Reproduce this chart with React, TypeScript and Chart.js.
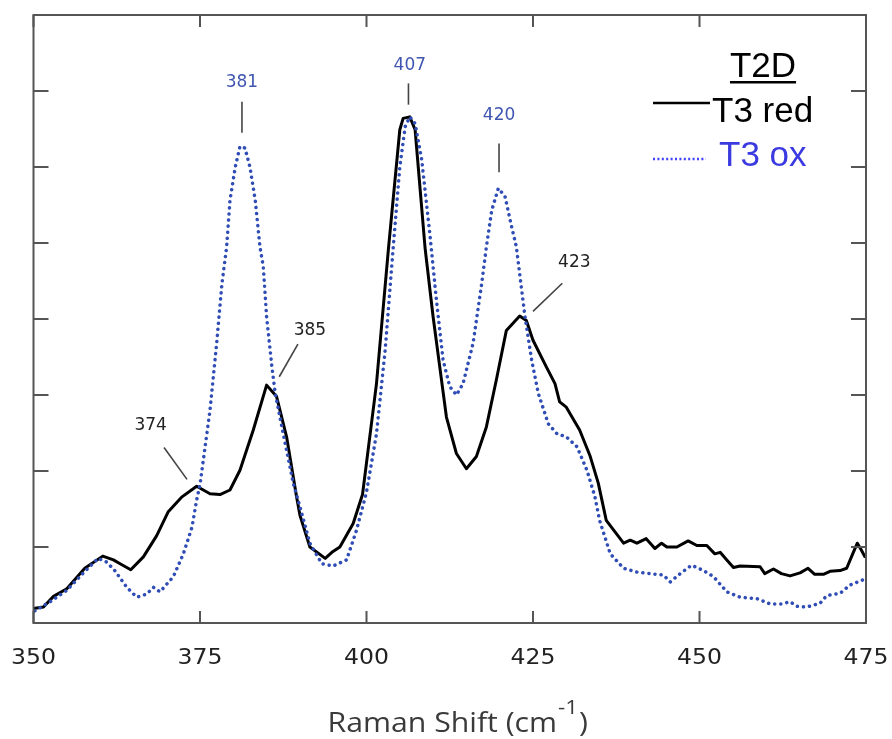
import React, { useEffect, useRef } from "react";
import { Chart, registerables } from "chart.js";

Chart.register(...registerables);

// ---- data (Raman shift in cm-1, intensity in arbitrary units) ----
const RED_X = [
  350.0, 351.5, 353.0, 355.0, 357.7, 360.4, 362.0, 363.0, 364.6, 366.5, 368.5, 370.2, 372.3, 374.5,
  376.5, 378.0, 379.5, 381.0, 383.0, 385.0, 386.5, 388.0, 389.5, 390.0, 391.5, 393.8, 394.8, 396.0,
  398.0, 399.4, 401.5, 403.3, 405.0, 405.5, 406.5, 407.3, 408.8, 410.0, 411.0, 412.0, 413.5, 415.0,
  416.5, 418.0, 419.5, 421.0, 423.0, 424.0, 425.0, 427.0, 428.3, 429.0, 430.0, 432.0, 433.6, 434.8,
  436.0, 438.6, 439.6, 440.6, 442.0, 443.3, 444.3, 445.1, 446.6, 448.3, 449.6, 451.1, 452.3, 453.1,
  454.1, 455.1, 456.1, 459.1, 459.8, 461.1, 462.3, 463.6, 465.1, 466.3, 467.3, 468.6, 469.6, 471.1,
  472.1, 473.1, 473.7, 474.3, 474.9,
];
const RED_Y = [
  0.19, 0.21, 0.35, 0.45, 0.72, 0.88, 0.83, 0.78, 0.7, 0.87, 1.15, 1.46, 1.66, 1.8,
  1.7, 1.69, 1.75, 2.01, 2.54, 3.13, 2.98, 2.45, 1.66, 1.42, 1.0, 0.85, 0.93, 1.0,
  1.31, 1.69, 3.15, 4.93, 6.49, 6.64, 6.66, 6.49, 4.93, 4.03, 3.37, 2.71, 2.23, 2.03,
  2.19, 2.58, 3.2, 3.85, 4.04, 3.98, 3.72, 3.37, 3.15, 2.91, 2.84, 2.54, 2.19, 1.84,
  1.35, 1.05, 1.09, 1.05, 1.11, 0.98, 1.05, 1.0, 1.0, 1.08, 1.02, 1.02, 0.91, 0.93,
  0.83, 0.73, 0.75, 0.74, 0.65, 0.71, 0.65, 0.62, 0.66, 0.72, 0.64, 0.64, 0.68, 0.69,
  0.72, 0.93, 1.05, 0.96, 0.86,
];
const OX_X = [
  350.2, 352.5, 355.0, 357.5, 359.7, 361.0, 362.2, 364.0, 365.5, 367.0, 368.0, 369.0, 371.0, 372.5,
  373.8, 374.5, 375.0, 376.5, 377.5, 378.3, 379.0, 379.5, 380.3, 381.0, 381.75, 382.5, 383.3, 384.0,
  384.5, 385.0, 385.8, 386.3, 387.5, 389.0, 390.0, 391.5, 393.3, 395.0, 397.0, 398.5, 400.0, 401.5,
  402.8, 404.0, 405.0, 405.8, 406.5, 407.3, 408.3, 409.5, 410.5, 411.5, 412.5, 413.5, 414.5, 416.0,
  417.3, 418.0, 418.8, 419.8, 420.8, 421.8, 422.5, 423.8, 424.8, 425.8, 427.3, 428.6, 430.0, 431.6,
  433.1, 434.3, 435.0, 436.6, 438.6, 440.6, 442.6, 444.6, 445.6, 447.1, 448.8, 450.6, 452.1, 454.1,
  456.1, 458.6, 460.6, 462.3, 463.6, 464.6, 466.1, 468.1, 469.1, 471.1, 472.6, 474.9,
];
const OX_Y = [
  0.16, 0.28, 0.43, 0.66, 0.85, 0.8, 0.69, 0.47, 0.34, 0.38, 0.47, 0.41, 0.61, 0.91,
  1.26, 1.62, 1.82, 2.8, 3.68, 4.47, 4.95, 5.56, 6.0, 6.27, 6.25, 6.0, 5.56, 4.95,
  4.69, 4.03, 3.37, 3.02, 2.49, 1.84, 1.53, 1.05, 0.78, 0.75, 0.83, 1.22, 1.72, 2.49,
  3.59, 4.93, 6.0, 6.53, 6.66, 6.57, 6.09, 5.13, 4.25, 3.46, 3.11, 3.0, 3.15, 3.68,
  4.47, 4.95, 5.43, 5.72, 5.61, 5.21, 4.95, 4.03, 3.46, 3.02, 2.62, 2.49, 2.45, 2.32,
  2.01, 1.66, 1.35, 0.91, 0.72, 0.67, 0.65, 0.63, 0.54, 0.65, 0.76, 0.69, 0.61, 0.41,
  0.34, 0.32, 0.25, 0.25, 0.28, 0.22, 0.21, 0.26, 0.36, 0.39, 0.5, 0.58,
];

const X_TICKS = [350, 375, 400, 425, 450, 475];
const X_TICK_LABELS = ["350", "375", "400", "425", "450", "475"];
const Y_TICKS = [1, 2, 3, 4, 5, 6, 7];

const SERIES_NAMES = ["T3 red", "T3 ox"];
const LEGEND_TITLE = "T2D";
const AXIS_TITLE = "Raman Shift (cm";
const AXIS_SUP = "-1";

// peak annotations: label text, which series, text anchor (data units), leader line (data units)
const PEAK_LABELS = ["381", "407", "420", "374", "385", "423"];
const PEAK_SERIES = ["ox", "ox", "ox", "red", "red", "red"];
const PEAK_TEXT_X = [381.3, 406.5, 419.9, 367.6, 391.5, 431.2];
const PEAK_TEXT_Y = [7.05, 7.28, 6.62, 2.54, 3.79, 4.68];
const LEAD_X1 = [381.3, 406.3, 419.9, 369.6, 389.7, 429.4];
const LEAD_Y1 = [6.86, 7.1, 6.31, 2.31, 3.67, 4.47];
const LEAD_X2 = [381.3, 406.3, 419.9, 373.05, 386.9, 425.0];
const LEAD_Y2 = [6.45, 6.82, 5.93, 1.89, 3.24, 4.1];

const BLUE_LINE = "#2f4db4";
const BLUE_LABEL = "#3f55b0";
const BLUE_LEGEND = "#3a3ae0";

const pts = (xs: number[], ys: number[]) => xs.map((v, i) => ({ x: v, y: ys[i] }));

const decorPlugin = {
  id: "decor",
  afterDraw(chart: any) {
    const { ctx, chartArea: a, scales } = chart;
    const x = scales.x;
    const y = scales.y;
    ctx.save();

    // frame
    ctx.strokeStyle = "#555";
    ctx.lineWidth = 2;
    ctx.strokeRect(a.left, a.top, a.right - a.left, a.bottom - a.top);

    // inner ticks
    ctx.beginPath();
    for (const t of X_TICKS) {
      const px = x.getPixelForValue(t);
      ctx.moveTo(px, a.bottom);
      ctx.lineTo(px, a.bottom - 12);
      ctx.moveTo(px, a.top);
      ctx.lineTo(px, a.top + 12);
    }
    for (const t of Y_TICKS) {
      const py = y.getPixelForValue(t);
      ctx.moveTo(a.left, py);
      ctx.lineTo(a.left + 15, py);
      ctx.moveTo(a.right, py);
      ctx.lineTo(a.right - 15, py);
    }
    ctx.stroke();

    // x tick labels (slightly wide, as in the source figure)
    ctx.fillStyle = "#222";
    ctx.font = '21px "DejaVu Sans", sans-serif';
    ctx.textAlign = "center";
    ctx.textBaseline = "alphabetic";
    for (let i = 0; i < X_TICKS.length; i++) {
      const px = x.getPixelForValue(X_TICKS[i]);
      ctx.save();
      ctx.translate(px, a.bottom + 41);
      ctx.scale(1.12, 1);
      ctx.fillText(X_TICK_LABELS[i], 0, 0);
      ctx.restore();
    }

    // peak annotations
    ctx.font = '17px "DejaVu Sans", sans-serif';
    ctx.textAlign = "center";
    for (let i = 0; i < PEAK_LABELS.length; i++) {
      ctx.fillStyle = PEAK_SERIES[i] === "ox" ? BLUE_LABEL : "#222";
      ctx.fillText(PEAK_LABELS[i], x.getPixelForValue(PEAK_TEXT_X[i]), y.getPixelForValue(PEAK_TEXT_Y[i]));
      ctx.strokeStyle = "#444";
      ctx.lineWidth = 1.6;
      ctx.beginPath();
      ctx.moveTo(x.getPixelForValue(LEAD_X1[i]), y.getPixelForValue(LEAD_Y1[i]));
      ctx.lineTo(x.getPixelForValue(LEAD_X2[i]), y.getPixelForValue(LEAD_Y2[i]));
      ctx.stroke();
    }

    // legend
    const R = a.right;
    const T = a.top;
    ctx.font = '35px "Liberation Sans", Arial, sans-serif';
    ctx.fillStyle = "#000";
    ctx.textAlign = "center";
    const tcx = R - 103;
    ctx.fillText(LEGEND_TITLE, tcx, T + 62);
    const tw = ctx.measureText(LEGEND_TITLE).width;
    ctx.fillRect(tcx - tw / 2, T + 66, tw, 2.5);

    ctx.textAlign = "left";
    ctx.fillText(SERIES_NAMES[0], R - 154, T + 107);
    ctx.strokeStyle = "#000";
    ctx.lineWidth = 2.5;
    ctx.beginPath();
    ctx.moveTo(R - 213, T + 88);
    ctx.lineTo(R - 156, T + 88);
    ctx.stroke();

    ctx.fillStyle = BLUE_LEGEND;
    ctx.fillText(SERIES_NAMES[1], R - 147, T + 151);
    ctx.strokeStyle = "#4040ff";
    ctx.lineWidth = 2.5;
    ctx.setLineDash([2, 2.4]);
    ctx.beginPath();
    ctx.moveTo(R - 213, T + 144);
    ctx.lineTo(R - 160, T + 144);
    ctx.stroke();
    ctx.setLineDash([]);

    // axis title with superscript
    const mainFont = '27px "Open Sans", "Noto Sans", sans-serif';
    const supFont = '20px "Open Sans", "Noto Sans", sans-serif';
    const sxScale = 1.12;
    ctx.font = mainFont;
    const w1 = ctx.measureText(AXIS_TITLE).width * sxScale;
    const w3 = ctx.measureText(")").width * sxScale;
    ctx.font = supFont;
    const w2 = ctx.measureText(AXIS_SUP).width * sxScale;
    const total = w1 + w2 + w3 + 2;
    const cx = (a.left + a.right) / 2 + 8;
    let sx = cx - total / 2;
    const base = a.bottom + 109;
    ctx.fillStyle = "#3a3a3a";
    ctx.textAlign = "left";
    const drawStretched = (txt: string, font: string, px: number, py: number) => {
      ctx.save();
      ctx.font = font;
      ctx.translate(px, py);
      ctx.scale(sxScale, 1);
      ctx.fillText(txt, 0, 0);
      ctx.restore();
    };
    drawStretched(AXIS_TITLE, mainFont, sx, base);
    sx += w1 + 1;
    drawStretched(AXIS_SUP, supFont, sx, base - 18);
    sx += w2 + 1;
    drawStretched(")", mainFont, sx, base);

    ctx.restore();
  },
};

export default function App() {
  const ref = useRef<HTMLCanvasElement | null>(null);
  useEffect(() => {
    if (!ref.current) return;
    const chart = new Chart(ref.current, {
      type: "line",
      data: {
        datasets: [
          {
            label: SERIES_NAMES[1],
            data: pts(OX_X, OX_Y),
            borderColor: BLUE_LINE,
            borderWidth: 3.5,
            borderDash: [0.1, 6],
            borderCapStyle: "round",
            borderJoinStyle: "round",
            pointRadius: 0,
            fill: false,
          },
          {
            label: SERIES_NAMES[0],
            data: pts(RED_X, RED_Y),
            borderColor: "#000",
            borderWidth: 3,
            borderJoinStyle: "round",
            pointRadius: 0,
            fill: false,
          },
        ],
      },
      options: {
        animation: false,
        responsive: true,
        maintainAspectRatio: false,
        devicePixelRatio: 1,
        layout: { padding: { left: 33.5, right: 26, top: 15, bottom: 116 } },
        plugins: { legend: { display: false }, tooltip: { enabled: false }, title: { display: false } },
        scales: {
          x: { type: "linear", min: 350, max: 475, display: false },
          y: { type: "linear", min: 0, max: 8, display: false },
        },
      },
      plugins: [decorPlugin],
    });
    return () => chart.destroy();
  }, []);
  return (
    <div style={{ position: "fixed", left: 0, top: 0, width: 892, height: 739, background: "#fff" }}>
      <canvas ref={ref} />
    </div>
  );
}
